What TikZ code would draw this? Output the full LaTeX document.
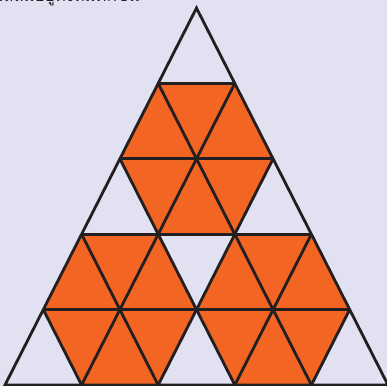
\documentclass[tikz,border=0pt]{standalone}
\usepackage{fontspec}
\newfontfamily\thaifont[Script=Thai]{Loma}
\definecolor{bglavender}{RGB}{226,225,242}
\definecolor{hexorange}{RGB}{242,101,34}
\definecolor{gridline}{RGB}{35,31,32}

\begin{document}
\begin{tikzpicture}[x=0.02cm,y=-0.02cm,
  gridline/.style={draw=gridline,line width=1.6pt},
  hexpatch/.style={fill=hexorange},
  question/.style={anchor=base east,inner sep=0pt,text=gridline,font=\thaifont\fontsize{9.5}{12}\selectfont}]
\fill[bglavender] (0,0) rectangle (387,386);
\useasboundingbox (0,0) rectangle (387,386);
% lattice points, row j, index i
\foreach \j in {0,...,5}{
  \foreach \i in {0,...,\j}{
    \coordinate (p-\j-\i) at ({196.5+38.3*(2*\i-\j)},{8+75.4*\j});
  }
}
% line of text cut off at the top
\node[question] (q) at (140,1.5) {มีสามเหลี่ยมสีส้มอยู่ทั้งหมดกี่ชิ้น};
% orange hexagons
\foreach \j/\i [evaluate=\j as \ju using int(\j-1), evaluate=\j as \jd using int(\j+1),
                evaluate=\i as \il using int(\i-1), evaluate=\i as \ir using int(\i+1)] in {2/1,4/1,4/3}{
  \fill[hexpatch] (p-\ju-\il) -- (p-\ju-\i) -- (p-\j-\ir) -- (p-\jd-\ir) -- (p-\jd-\i) -- (p-\j-\il) -- cycle;
}
% grid
\foreach \j in {1,...,4}{
  \draw[gridline] (p-\j-0) -- (p-\j-\j);
}
\draw[gridline] (p-0-0) -- (p-5-0) -- (p-5-5) -- cycle;
\foreach \k [evaluate=\k as \kr using int(5-\k)] in {1,...,4}{
  \draw[gridline] (p-\k-\k) -- (p-5-\k);
  \draw[gridline] (p-\k-0) -- (p-5-\kr);
}
\end{tikzpicture}
\end{document}
